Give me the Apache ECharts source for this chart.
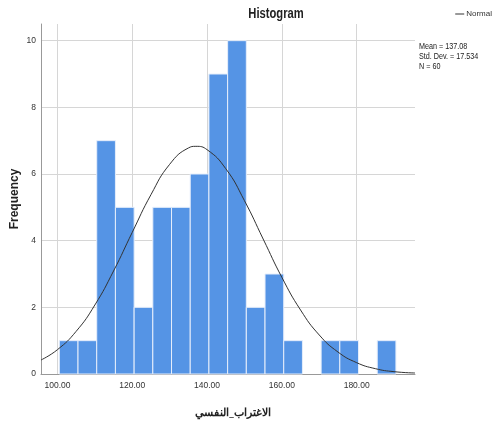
<!DOCTYPE html>
<html>
<head>
<meta charset="utf-8">
<script src="https://cdn.jsdelivr.net/npm/echarts@6/dist/echarts.min.js"></script>
<style>
html,body{margin:0;padding:0;background:#fff;}
#hist{width:497px;height:423px;}
</style>
</head>
<body>
<div id="hist"></div>
<script>
// bin edges (width 5) and frequency per bin
var binEdges=[100.5,105.5,110.5,115.5,120.5,125.5,130.5,135.5,140.5,145.5,150.5,155.5,160.5,165.5,170.5,175.5,180.5,185.5,190.5]
var counts=[1,1,7,5,2,5,5,6,9,10,2,3,1,0,1,1,0,1]
// normal curve, points
var curveX=[95.6,100,105,110,115,120,125,130,135,137,140,145,150,155,160,165,170,175,180,185,190,195.6]
var curveY=[0.42,0.73,1.28,2.07,3.09,4.25,5.38,6.29,6.78,6.83,6.73,6.16,5.20,4.05,2.90,1.92,1.17,0.66,0.34,0.16,0.07,0.03]
var statLines=['Mean = 137.08','Std. Dev. = 17.534','N = 60']

var sans="'Liberation Sans',Arial,sans-serif"

var bins=[]
for(var i=0;i<counts.length;i++){
	if(counts[i]>0) bins.push([binEdges[i],binEdges[i+1],counts[i]])
}
var curve=[]
for(var j=0;j<curveX.length;j++){
	curve.push([curveX[j],curveY[j]])
}

var mychart=echarts.init(document.getElementById('hist'));
var option={
	animation:false,
	legend:{
		right:0,
		top:5,
		itemWidth:9,
		itemHeight:1,
		itemGap:2,
		textStyle:{fontFamily:sans,fontSize:8,color:'#333',padding:[0,0,0,-3]},
		data:[{name:'Normal',icon:'rect'}]
	},
	graphic:[{
		type:'text',
		x:276,
		y:7,
		scaleX:0.8,
		style:{text:'Histogram',font:'bold 14px '+sans,fill:'#222',align:'center'}
	},{
		type:'text',
		x:419,
		y:42,
		scaleX:0.8,
		style:{text:statLines.join('\n'),font:'9px '+sans,fill:'#222',lineHeight:10}
	}],
	grid:{left:41,right:82,top:24,bottom:49,outerBoundsMode:'none'},
	xAxis:{
		type:'value',
		min:95.6,
		max:195.6,
		name:'الاغتراب_النفسي',
		nameLocation:'middle',
		nameGap:33,
		nameMoveOverlap:false,
		nameTextStyle:{fontFamily:"'Noto Sans',sans-serif",fontSize:11,fontWeight:'bold',color:'#222',padding:[0,0,0,10]},
		axisLine:{lineStyle:{color:'#999',width:1}},
		axisTick:{show:false},
		axisLabel:{
			showMinLabel:false,
			showMaxLabel:false,
			fontFamily:sans,
			fontSize:8.5,
			color:'#333',
			margin:7,
			formatter:function(v){return v%20===0?v.toFixed(2):''}
		},
		splitLine:{show:true,showMinLine:false,showMaxLine:false,lineStyle:{color:'#d6d6d6',width:1}}
	},
	yAxis:{
		type:'value',
		min:0,
		max:10.5,
		interval:2,
		name:'Frequency',
		nameLocation:'middle',
		nameGap:20,
		nameMoveOverlap:false,
		nameTextStyle:{fontFamily:sans,fontSize:12,fontWeight:'bold',color:'#222'},
		axisLine:{show:true,lineStyle:{color:'#999',width:1}},
		axisTick:{show:false},
		axisLabel:{showMaxLabel:false,fontFamily:sans,fontSize:8.5,color:'#333',margin:5},
		splitLine:{show:true,showMaxLine:false,lineStyle:{color:'#d6d6d6',width:1}}
	},
	series:[{
		name:'bins',
		type:'custom',
		renderItem:function(params,api){
			var p0=api.coord([api.value(0),0])
			var p1=api.coord([api.value(1),api.value(2)])
			return {
				type:'rect',
				shape:{x:p0[0],y:p1[1],width:p1[0]-p0[0],height:p0[1]-p1[1]},
				style:{fill:'#5594e5',stroke:'#e6eefb',lineWidth:1}
			}
		},
		encode:{x:[0,1],y:2},
		data:bins,
		z:2
	},
	{
		name:'Normal',
		type:'line',
		smooth:true,
		symbol:'none',
		lineStyle:{color:'#333',width:1},
		itemStyle:{color:'#333'},
		data:curve,
		z:3
	}]
};
mychart.setOption(option);
</script>
</body>
</html>
